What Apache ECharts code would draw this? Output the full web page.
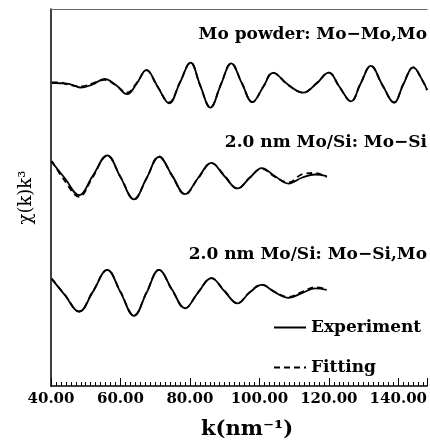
<!DOCTYPE html>
<html>
<head>
<meta charset="utf-8">
<script src="https://cdn.jsdelivr.net/npm/echarts@6/dist/echarts.min.js"></script>
<style>
  html, body { margin: 0; padding: 0; background: #fff; }
  #chart { width: 430px; height: 446px; }
</style>
</head>
<body>
<div id="chart"></div>
<script>
// k values (nm^-1) and chi(k)k^3 (arbitrary units)
var kPowder = [40.2, 42.6, 45.4, 48.8, 52.0, 55.4, 58.6, 61.9, 64.6, 67.5, 70.6, 74.0, 77.1, 80.2, 82.9, 85.9, 88.9, 91.9, 94.9, 98.0,
               101.1, 103.9, 108.3, 112.6, 116.3, 120.0, 123.1, 126.4, 129.1, 132.1, 135.4, 138.8, 141.4, 144.3, 146.9, 148.3];
var powderExp = [0, -0.1, -0.3, -1.25, -0.4, 1.05, -0.5, -3.0, -0.3, 3.45, -0.8, -5.4, 0, 5.4, -0.5, -6.55, -0.5, 5.2, 0, -5.1,
                 -1.1, 2.65, -0.5, -2.6, -0.3, 2.7, -1.1, -4.9, -0.3, 4.5, -0.5, -5.2, -0.5, 4.1, 0.8, -1.9];
var powderFit = [0.1, 0.1, -0.6, -0.9, -0.1, 0.8, -0.6, -2.6, -0.1, 3.3, -0.9, -5.2, 0.1, 5.4, -0.6, -6.5, -0.4, 5.2, 0.1, -5.1,
                 -1.0, 2.7, -0.6, -2.6, -0.2, 2.7, -1.2, -4.9, -0.2, 4.5, -0.6, -5.2, -0.4, 4.1, 0.7, -1.9];

var kFilm = [40.2, 44.0, 48.1, 52.0, 56.2, 60.0, 63.9, 67.5, 71.1, 74.9, 78.6, 82.3, 86.2, 89.9, 93.7, 97.1, 100.7, 104.4, 108.4, 112.4, 116.1, 119.4];
var moSiExp = [4.1, -0.3, -4.8, 0.3, 5.8, 0, -5.9, -0.3, 5.4, 0.4, -4.5, -0.3, 3.8, 0.3, -3.0, -0.3, 2.4, 0.3, -1.7, -0.1, 0.7, 0.3];
var moSiFit = [4.3, -1.0, -5.2, 0.0, 5.7, 0.1, -5.8, -0.4, 5.5, 0.3, -4.6, -0.4, 3.7, 0.5, -3.1, -0.2, 2.2, 0.1, -1.4, 0.8, 1.1, 0.0];
var moSiMoExp = [3.2, -1.1, -5.5, -0.3, 5.6, -0.3, -6.6, -0.5, 5.6, 0.3, -4.6, -0.5, 3.4, 0, -3.3, -0.5, 1.6, -0.3, -1.8, -0.5, 0.7, 0.3];
var moSiMoFit = [3.3, -1.0, -5.4, -0.2, 5.6, -0.2, -6.5, -0.4, 5.6, 0.2, -4.6, -0.4, 3.4, 0.1, -3.2, -0.4, 1.7, -0.2, -1.6, -0.2, 1.0, 0.5];

// vertical shift of each curve
var offsets = [80.4, 55.4, 25.2];
var curveLabels = ['Mo powder: Mo\u2212Mo,Mo', '2.0 nm Mo/Si: Mo\u2212Si', '2.0 nm Mo/Si: Mo\u2212Si,Mo'];

var serifBold = 'bold 17px "DejaVu Serif", serif';

function pairs(ks, vals, off) {
    return ks.map(function (k, i) { return [k, vals[i] + off]; });
}

function lineSeries(name, data, dashed) {
    return {
        name: name,
        type: 'line',
        data: data,
        smooth: 0.4,
        symbol: 'none',
        silent: true,
        lineStyle: { color: '#000', width: 1.8, type: dashed ? [6, 4] : 'solid' },
        itemStyle: { color: '#000' }
    };
}

var chart = echarts.init(document.getElementById('chart'));

var options = {
    animation: false,
    grid: { left: 51, right: 0, top: 9, bottom: 60 },
    legend: {
        data: ['Experiment', 'Fitting'],
        orient: 'vertical',
        left: 273,
        top: 319,
        padding: 0,
        itemWidth: 32,
        itemHeight: 14,
        itemGap: 23,
        itemStyle: { opacity: 0 },
        textStyle: { color: '#000', fontFamily: '"DejaVu Serif", serif', fontWeight: 'bold', fontSize: 17 }
    },
    xAxis: [{
        type: 'value',
        min: 40,
        max: 148.3,
        interval: 20,
        position: 'bottom',
        splitLine: { show: false },
        axisLine: { lineStyle: { color: '#000', width: 1.5 } },
        axisTick: { inside: true, length: 8, lineStyle: { color: '#000' } },
        minorTick: { show: true, splitNumber: 14, length: 4, lineStyle: { color: '#000' } },
        axisLabel: {
            color: '#000', fontFamily: '"DejaVu Serif", serif', fontWeight: 'bold', fontSize: 15, margin: 6,
            showMaxLabel: false,
            formatter: function (v) { return v.toFixed(2); }
        },
        name: 'k(nm\u207B\u00B9)',
        nameLocation: 'middle',
        nameGap: 33,
        nameTextStyle: { color: '#000', fontFamily: '"DejaVu Serif", serif', fontWeight: 'bold', fontSize: 21, padding: [0, 0, 0, 16] }
    }, {
        type: 'value',
        min: 40,
        max: 148.3,
        position: 'top',
        splitLine: { show: false },
        axisLine: { lineStyle: { color: '#666', width: 1 } },
        axisTick: { show: false },
        axisLabel: { show: false }
    }],
    yAxis: {
        type: 'value',
        min: 0,
        max: 100,
        splitLine: { show: false },
        axisLine: { show: true, lineStyle: { color: '#000', width: 1.5 } },
        axisTick: { show: false },
        axisLabel: { show: false },
        name: '\u03C7(k)k\u00B3',
        nameLocation: 'middle',
        nameRotate: 90,
        nameGap: 16,
        nameTextStyle: { color: '#000', fontFamily: '"DejaVu Serif", serif', fontSize: 18 }
    },
    series: [
        lineSeries('Fitting', pairs(kPowder, powderFit, offsets[0]), true),
        lineSeries('Fitting', pairs(kFilm, moSiFit, offsets[1]), true),
        lineSeries('Fitting', pairs(kFilm, moSiMoFit, offsets[2]), true),
        lineSeries('Experiment', pairs(kPowder, powderExp, offsets[0]), false),
        lineSeries('Experiment', pairs(kFilm, moSiExp, offsets[1]), false),
        lineSeries('Experiment', pairs(kFilm, moSiMoExp, offsets[2]), false)
    ],
    graphic: [
        { type: 'text', style: { text: curveLabels[0], x: 427, y: 43, align: 'right', verticalAlign: 'bottom', font: serifBold, fill: '#000' } },
        { type: 'text', style: { text: curveLabels[1], x: 427, y: 151, align: 'right', verticalAlign: 'bottom', font: serifBold, fill: '#000' } },
        { type: 'text', style: { text: curveLabels[2], x: 427, y: 263, align: 'right', verticalAlign: 'bottom', font: serifBold, fill: '#000' } }
    ]
};

chart.setOption(options);

window.onresize = function () {
    chart.resize();
};
</script>
</body>
</html>
